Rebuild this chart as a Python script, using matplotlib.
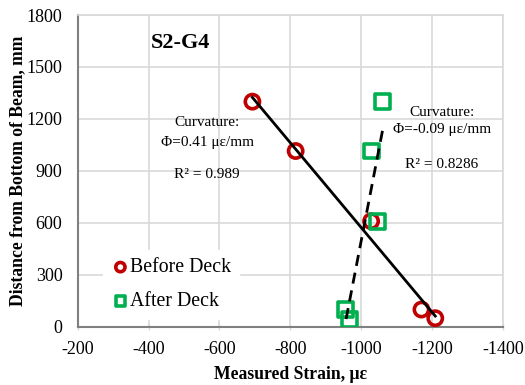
import numpy as np
import matplotlib
matplotlib.use("Agg")
import matplotlib.pyplot as plt

# Data (strain in microstrain, distance in mm)
before_strain = [-693, -815, -1028, -1170, -1209]
before_height = [1300, 1015, 610, 100, 50]
after_strain = [-1060, -1028, -1045, -955, -967]
after_height = [1300, 1015, 610, 100, 40]

x_ticks = [-200, -400, -600, -800, -1000, -1200, -1400]
y_ticks = [0, 300, 600, 900, 1200, 1500, 1800]

plt.rcParams['font.family'] = ['Liberation Serif', 'DejaVu Serif']

fig = plt.figure(figsize=(5.25, 3.85), dpi=100)
ax = fig.add_axes([0.148, 0.151, 0.810, 0.810])

red = '#C00000'
green = '#00B050'

ax.scatter(before_strain, before_height, marker='o', s=105, facecolors='none',
           edgecolors=red, linewidths=2.6, zorder=4, label='Before Deck')
ax.scatter(after_strain, after_height, marker='s', s=115, facecolors='none',
           edgecolors=green, linewidths=2.6, zorder=4, label='After Deck')

# Linear trendlines (y on x), drawn over data x-range
bx = np.array(before_strain, float); by = np.array(before_height, float)
m1, b1 = np.polyfit(bx, by, 1)
xx1 = np.array([bx.min(), bx.max()])
ax.plot(xx1, m1 * xx1 + b1, color='black', lw=2, zorder=5)

axs = np.array(after_strain, float); ay = np.array(after_height, float)
m2, b2 = np.polyfit(axs, ay, 1)
xx2 = np.array([axs.min(), axs.max()])
ax.plot(xx2, m2 * xx2 + b2, color='black', lw=2, ls=(0, (4, 2.5)), zorder=5)

ax.set_xlim(-200, -1400)
ax.set_ylim(0, 1800)
ax.set_xticks(x_ticks)
ax.set_yticks(y_ticks)
ax.set_xticklabels([str(t) for t in x_ticks])
ax.grid(True, color='#D9D9D9', lw=1.2, zorder=0)
ax.set_axisbelow(True)

for s in ['top', 'right']:
    ax.spines[s].set_color('#D9D9D9')
    ax.spines[s].set_linewidth(1.2)
for s in ['left', 'bottom']:
    ax.spines[s].set_color('#808080')
    ax.spines[s].set_linewidth(1.5)

ax.tick_params(axis='x', labelsize=13, colors='#D9D9D9', labelcolor='black',
               length=4, direction='inout', width=1, pad=8)
ax.tick_params(axis='y', labelsize=13, labelcolor='black', length=0, pad=11)

ax.set_xlabel('Measured Strain, με', fontsize=12.7, fontweight='bold', labelpad=6)
ax.set_ylabel('Distance from Bottom of Beam, mm', fontsize=12.7, fontweight='bold', labelpad=0)

ax.text(-489, 1640, 'S2-G4', fontsize=16, fontweight='bold', ha='center', va='center')

ax.text(-565, 1177, 'Curvature:', fontsize=11, ha='center', va='center')
ax.text(-565, 1067, 'Φ=0.41 με/mm', fontsize=11, ha='center', va='center')
ax.text(-565, 877, 'R² = 0.989', fontsize=11, ha='center', va='center')

ax.text(-1228, 1240, 'Curvature:', fontsize=11, ha='center', va='center')
ax.text(-1228, 1142, 'Φ=-0.09 με/mm', fontsize=11, ha='center', va='center')
ax.text(-1228, 940, 'R² = 0.8286', fontsize=11, ha='center', va='center')

leg = ax.legend(loc='center left', bbox_to_anchor=(0.035, 0.135), fontsize=14.3,
                frameon=True, framealpha=1, edgecolor='white', facecolor='white',
                handletextpad=0.0, handlelength=1.0, borderpad=0.4,
                labelspacing=0.75, markerscale=0.65, fancybox=False)
leg.set_zorder(3)

fig.savefig('out.png', dpi=100)
